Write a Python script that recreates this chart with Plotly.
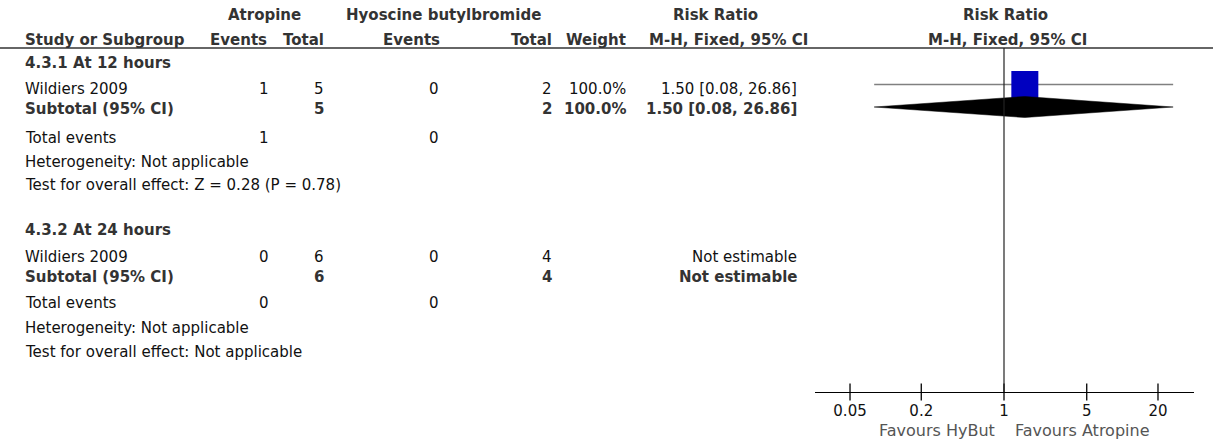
import math
import plotly.graph_objects as go

# ---------------- data ----------------
subgroups = ["4.3.1 At 12 hours", "4.3.2 At 24 hours"]
studies = ["Wildiers 2009", "Wildiers 2009"]
atr_events = [1, 0]
atr_total = [5, 6]
hyo_events = [0, 0]
hyo_total = [2, 4]
weights = ["100.0%", ""]
rr = [1.50, None]
rr_lo = [0.08, None]
rr_hi = [26.86, None]
sub_weights = ["100.0%", ""]
heterogeneity = ["Not applicable", "Not applicable"]
overall_effect = ["Z = 0.28 (P = 0.78)", "Not applicable"]
tick_vals = [0.05, 0.2, 1, 5, 20]
tick_text = ["0.05", "0.2", "1", "5", "20"]
favours_left = "Favours HyBut"
favours_right = "Favours Atropine"

# ---------------- layout constants ----------------
W, H = 1213, 442
FONT = "DejaVu Sans"
FS = 15
BOLD_C = "#333333"
REG_C = "#111111"
AXIS_Y = 392
HEADER_LINE_Y = 48

# column anchors (pixels)
X_STUDY = 23
X_AE = 271
X_AT = 326
X_HE = 441
X_HT = 554
X_W = 628
X_RR = 799

# row y positions (pixels) for each subgroup block
block_rows = [
    dict(head=63, study=89, sub=109, tot=138, het=162, test=185),
    dict(head=230, study=257, sub=277, tot=303, het=328, test=352),
]

fig = go.Figure()


def txt(s, px, py, anchor="left", bold=False, color=None, size=FS):
    if bold:
        s = "<b>" + s + "</b>"
    fig.add_annotation(
        text=s, x=px / W, y=1 - py / H, xref="paper", yref="paper",
        xanchor=anchor, yanchor="middle", showarrow=False,
        font=dict(family=FONT, size=size,
                  color=color or (BOLD_C if bold else REG_C)),
    )


def fmt_rr(i):
    if rr[i] is None:
        return "Not estimable"
    return f"{rr[i]:.2f} [{rr_lo[i]:.2f}, {rr_hi[i]:.2f}]"


# headers
txt("Atropine", 264, 15, "center", bold=True)
txt("Hyoscine butylbromide", 443, 15, "center", bold=True)
txt("Risk Ratio", 715, 15, "center", bold=True)
txt("Risk Ratio", 1005, 15, "center", bold=True)
txt("Study or Subgroup", X_STUDY, 40, "left", bold=True)
txt("Events", X_AE - 2, 40, "right", bold=True)
txt("Total", X_AT, 40, "right", bold=True)
txt("Events", X_HE + 1, 40, "right", bold=True)
txt("Total", X_HT, 40, "right", bold=True)
txt("Weight", X_W, 40, "right", bold=True)
txt("M-H, Fixed, 95% CI", 728, 40, "center", bold=True)
txt("M-H, Fixed, 95% CI", 1007, 40, "center", bold=True)

# header rule
fig.add_shape(type="line", xref="paper", yref="paper",
              x0=0, x1=1, y0=1 - HEADER_LINE_Y / H, y1=1 - HEADER_LINE_Y / H,
              line=dict(color="#333333", width=1.5))

for i, rows in enumerate(block_rows):
    txt(subgroups[i], X_STUDY, rows["head"], "left", bold=True)
    # study row
    txt(studies[i], X_STUDY, rows["study"], "left")
    txt(str(atr_events[i]), X_AE, rows["study"], "right")
    txt(str(atr_total[i]), X_AT, rows["study"], "right")
    txt(str(hyo_events[i]), X_HE, rows["study"], "right")
    txt(str(hyo_total[i]), X_HT, rows["study"], "right")
    if weights[i]:
        txt(weights[i], X_W, rows["study"], "right")
    txt(fmt_rr(i), X_RR, rows["study"], "right")
    # subtotal row
    txt("Subtotal (95% CI)", X_STUDY, rows["sub"], "left", bold=True)
    txt(str(atr_total[i]), X_AT, rows["sub"], "right", bold=True)
    txt(str(hyo_total[i]), X_HT, rows["sub"], "right", bold=True)
    if sub_weights[i]:
        txt(sub_weights[i], X_W, rows["sub"], "right", bold=True)
    txt(fmt_rr(i), X_RR, rows["sub"], "right", bold=True)
    # totals
    txt("Total events", X_STUDY, rows["tot"], "left")
    txt(str(atr_events[i]), X_AE, rows["tot"], "right")
    txt(str(hyo_events[i]), X_HE, rows["tot"], "right")
    txt("Heterogeneity: " + heterogeneity[i], X_STUDY, rows["het"], "left")
    txt("Test for overall effect: " + overall_effect[i], X_STUDY, rows["test"], "left")

    # forest marks
    if rr[i] is not None:
        yline = rows["study"] - 4.5
        fig.add_trace(go.Scatter(
            x=[rr_lo[i], rr_hi[i]], y=[yline, yline], mode="lines",
            line=dict(color="#808080", width=1.5), hoverinfo="skip",
            cliponaxis=False))
        fig.add_trace(go.Scatter(
            x=[rr[i]], y=[yline], mode="markers",
            marker=dict(symbol="square", size=27, color="#0000C0",
                        line=dict(width=0)), hoverinfo="skip",
            cliponaxis=False))
        ymid = rows["sub"] - 2
        hh = 10.5
        fig.add_trace(go.Scatter(
            x=[rr_lo[i], rr[i], rr_hi[i], rr[i], rr_lo[i]],
            y=[ymid, ymid - hh, ymid, ymid + hh, ymid],
            mode="lines", fill="toself", fillcolor="black",
            line=dict(color="black", width=0.5), hoverinfo="skip",
            cliponaxis=False))

# line of no effect
fig.add_shape(type="line", xref="x", yref="y", x0=1, x1=1,
              y0=HEADER_LINE_Y, y1=AXIS_Y, line=dict(color="#222222", width=1.2))

# tick marks crossing the axis
fig.add_trace(go.Scatter(
    x=tick_vals, y=[AXIS_Y] * len(tick_vals), mode="markers",
    marker=dict(symbol="line-ns", size=12, line=dict(width=1.3, color="black")),
    hoverinfo="skip", cliponaxis=False))

txt(favours_left, 997, 430, "right", color="#555555", size=16)
txt(favours_right, 1013, 430, "left", color="#555555", size=16)

fig.update_layout(
    width=W, height=H,
    margin=dict(l=0, r=0, t=0, b=0),
    paper_bgcolor="white", plot_bgcolor="white",
    showlegend=False,
    xaxis=dict(
        type="log",
        range=[math.log10(0.0253), math.log10(40.3)],
        domain=[815 / W, 1194 / W],
        showline=True, linecolor="black", linewidth=1.3,
        ticks="", tickvals=tick_vals, ticktext=tick_text,
        tickfont=dict(family=FONT, size=15, color=REG_C),
        ticklabelstandoff=5,
        showgrid=False, zeroline=False, fixedrange=True,
    ),
    yaxis=dict(
        domain=[(H - AXIS_Y) / H, 1],
        range=[AXIS_Y, 0],
        visible=False, showgrid=False, zeroline=False, fixedrange=True,
    ),
)

fig.write_html(
    "out.html",
    config={"displayModeBar": False},
    post_script="document.body.style.margin='0';document.body.style.padding='0';",
)
